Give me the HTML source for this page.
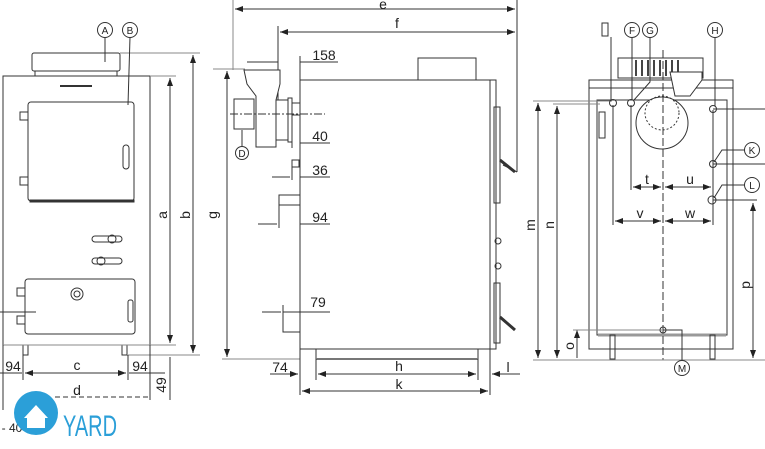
<!DOCTYPE html>
<html><head><meta charset="utf-8"><style>
html,body{margin:0;padding:0;background:#fff;}
svg{display:block;font-family:"Liberation Sans",sans-serif;}
</style></head><body>
<svg width="765" height="449" viewBox="0 0 765 449" xmlns="http://www.w3.org/2000/svg">
<defs>
<marker id="ar" markerWidth="8" markerHeight="6" refX="8" refY="3" orient="auto-start-reverse" markerUnits="userSpaceOnUse"><path d="M0,0 L8,3 L0,6 Z" fill="#222"/></marker>
</defs>
<g stroke="#333" stroke-width="1" fill="none">
<!-- FRONT VIEW -->
<rect x="32" y="53" width="88" height="18" rx="2" fill="#fff"/>
<rect x="35" y="71" width="82" height="5"/>
<line x1="120" y1="53" x2="200" y2="53" stroke="#888"/>
<rect x="3" y="76" width="147" height="269" fill="#fff"/>
<line x1="150" y1="76" x2="176" y2="76" stroke="#888"/>
<line x1="60" y1="86" x2="92" y2="86" stroke-width="2"/>
<rect x="28" y="102" width="106" height="99" rx="3"/>
<rect x="30" y="200" width="104" height="2" fill="#333"/>
<rect x="20" y="112" width="8" height="8"/><rect x="20" y="177" width="8" height="8"/>
<rect x="123" y="145" width="6" height="24" rx="3"/>
<rect x="92" y="236" width="30" height="6" rx="3"/><circle cx="112" cy="239" r="4"/>
<rect x="92" y="258" width="30" height="6" rx="3"/><circle cx="101" cy="261" r="4"/>
<rect x="25" y="279" width="110" height="55" rx="3"/>
<circle cx="77" cy="294" r="6"/><circle cx="77" cy="294" r="3"/>
<rect x="17" y="288" width="8" height="8"/><rect x="17" y="316" width="8" height="8"/>
<rect x="128" y="300" width="5" height="22" rx="2"/>
<line x1="0" y1="312" x2="36" y2="312"/>
<rect x="23" y="345" width="5" height="10"/><rect x="122" y="345" width="5" height="10"/>
<line x1="128" y1="355" x2="200" y2="355" stroke="#888"/>
<line x1="3" y1="345" x2="176" y2="345" stroke="#888"/>
<line x1="3" y1="345" x2="3" y2="410"/><line x1="150" y1="345" x2="150" y2="400"/>
<line x1="23" y1="355" x2="23" y2="380"/><line x1="128" y1="355" x2="128" y2="380"/>
<line x1="170" y1="78" x2="170" y2="343" marker-start="url(#ar)" marker-end="url(#ar)"/>
<line x1="193" y1="55" x2="193" y2="353" marker-start="url(#ar)" marker-end="url(#ar)"/>
<line x1="25" y1="373" x2="126" y2="373" marker-start="url(#ar)" marker-end="url(#ar)"/>
<line x1="0" y1="373" x2="22" y2="373"/><line x1="129" y1="373" x2="165" y2="373"/>
<line x1="170" y1="357" x2="170" y2="400"/>
<line x1="55" y1="397" x2="148" y2="397" stroke-dasharray="5,3"/>
<!-- SIDE VIEW -->
<line x1="233" y1="0" x2="233" y2="70" stroke="#888"/>
<line x1="235" y1="9" x2="515" y2="9" marker-start="url(#ar)" marker-end="url(#ar)"/>
<line x1="517" y1="0" x2="517" y2="172"/>
<line x1="278" y1="26" x2="278" y2="100"/>
<line x1="280" y1="32" x2="515" y2="32" marker-start="url(#ar)" marker-end="url(#ar)"/>
<line x1="517" y1="172" x2="503" y2="165"/>
<rect x="418" y="58" width="58" height="22" fill="#fff"/>
<rect x="300" y="80" width="190" height="269" fill="#fff"/>
<rect x="490" y="80" width="6" height="269"/>
<rect x="494" y="107" width="6" height="96"/><rect x="494" y="283" width="6" height="60"/>
<line x1="500" y1="160" x2="515" y2="172" stroke-width="3"/>
<line x1="500" y1="317" x2="515" y2="330" stroke-width="3"/>
<circle cx="498" cy="241" r="3"/><circle cx="498" cy="266" r="3"/>
<rect x="316" y="349" width="162" height="10"/>
<line x1="316" y1="359" x2="478" y2="359" stroke-width="2" stroke="#777"/>
<!-- flue -->
<path d="M244,70 L280,70 L280,84 L276,100 L276,147 L256,147 L256,96 L247,84 Z" fill="#fff"/>
<rect x="234" y="99" width="20" height="30" fill="#fff"/>
<rect x="276" y="100" width="12" height="40"/>
<rect x="288" y="98" width="4" height="44"/>
<rect x="292" y="103" width="8" height="12"/>
<line x1="230" y1="114" x2="325" y2="114" stroke-dasharray="8,2,2,2"/>
<line x1="242" y1="130" x2="242" y2="146"/>
<circle cx="242" cy="153" r="6.5" fill="#fff"/>
<line x1="213" y1="69" x2="245" y2="69" stroke="#888"/>
<line x1="247" y1="62" x2="278" y2="62"/><line x1="300" y1="62" x2="338" y2="62"/>
<line x1="300" y1="56" x2="300" y2="80"/>
<line x1="292" y1="140" x2="292" y2="148"/><line x1="300" y1="143" x2="330" y2="143"/>
<rect x="292" y="160" width="7" height="7"/>
<line x1="272" y1="177" x2="290" y2="177"/><line x1="300" y1="177" x2="330" y2="177"/><line x1="292" y1="167" x2="292" y2="180"/>
<rect x="279" y="195" width="21" height="10"/><line x1="279" y1="205" x2="279" y2="228"/>
<line x1="258" y1="224" x2="277" y2="224"/><line x1="300" y1="224" x2="330" y2="224"/>
<rect x="283" y="312" width="17" height="20"/><line x1="283" y1="305" x2="283" y2="318"/>
<line x1="262" y1="312" x2="281" y2="312"/><line x1="300" y1="312" x2="330" y2="312"/>
<line x1="227" y1="71" x2="227" y2="357" marker-start="url(#ar)" marker-end="url(#ar)"/>
<line x1="222" y1="359" x2="300" y2="359" stroke="#888"/>
<line x1="300" y1="349" x2="300" y2="395"/><line x1="490" y1="349" x2="490" y2="395"/>
<line x1="316" y1="359" x2="316" y2="380"/><line x1="478" y1="359" x2="478" y2="380"/>
<line x1="270" y1="374" x2="298" y2="374" marker-end="url(#ar)"/>
<line x1="318" y1="374" x2="476" y2="374" marker-start="url(#ar)" marker-end="url(#ar)"/>
<line x1="492" y1="374" x2="520" y2="374" marker-start="url(#ar)"/>
<line x1="302" y1="391" x2="488" y2="391" marker-start="url(#ar)" marker-end="url(#ar)"/>
<!-- REAR VIEW -->
<rect x="618" y="58" width="85" height="20" fill="#fff"/>
<g stroke="#444" stroke-width="2"><line x1="636" y1="60" x2="636" y2="76"/><line x1="642" y1="60" x2="642" y2="76"/><line x1="648" y1="60" x2="648" y2="76"/><line x1="654" y1="60" x2="654" y2="76"/><line x1="660" y1="60" x2="660" y2="76"/><line x1="666" y1="60" x2="666" y2="76"/><line x1="672" y1="60" x2="672" y2="76"/><line x1="678" y1="60" x2="678" y2="76"/></g>
<rect x="589" y="80" width="144" height="269" fill="#fff"/>
<rect x="597" y="100" width="130" height="235"/>
<line x1="589" y1="88" x2="733" y2="88"/>
<rect x="599" y="112" width="6" height="26"/>
<circle cx="662" cy="123" r="26" fill="#fff"/>
<circle cx="662" cy="113" r="17" stroke-dasharray="2,2"/>
<path d="M670,72 L702,72 L702,80 L690,96 L675,96 Z" fill="#fff"/>
<line x1="598" y1="335" x2="726" y2="335" stroke="#999" stroke-width="3"/>
<rect x="610" y="335" width="5" height="24"/><rect x="710" y="335" width="5" height="24"/>
<line x1="663" y1="50" x2="663" y2="360" stroke-dasharray="8,3"/>
<line x1="533" y1="360" x2="765" y2="360" stroke="#888"/>
<line x1="533" y1="101" x2="612" y2="101" stroke="#888"/><line x1="553" y1="104" x2="600" y2="104" stroke="#888"/>
<line x1="538" y1="103" x2="538" y2="358" marker-start="url(#ar)" marker-end="url(#ar)"/>
<line x1="557" y1="106" x2="557" y2="358" marker-start="url(#ar)" marker-end="url(#ar)"/>
<line x1="577" y1="330" x2="577" y2="358" marker-start="url(#ar)"/>
<line x1="573" y1="330" x2="662" y2="330" stroke="#888"/>
<line x1="753" y1="203" x2="753" y2="358" marker-start="url(#ar)" marker-end="url(#ar)"/>
<line x1="713" y1="200" x2="757" y2="200"/>
<circle cx="613" cy="103" r="3.5"/><circle cx="631" cy="103" r="3.5"/><circle cx="713" cy="109" r="3.5"/><circle cx="713" cy="164" r="3.5"/><circle cx="712" cy="200" r="4"/><circle cx="663" cy="330" r="3"/>
<line x1="613" y1="105" x2="613" y2="225"/><line x1="631" y1="105" x2="631" y2="190"/><line x1="713" y1="110" x2="713" y2="225"/>
<line x1="713" y1="109" x2="765" y2="109"/><line x1="713" y1="164" x2="765" y2="164"/>
<line x1="633" y1="187" x2="661" y2="187" marker-start="url(#ar)" marker-end="url(#ar)"/>
<line x1="665" y1="187" x2="711" y2="187" marker-start="url(#ar)" marker-end="url(#ar)"/>
<line x1="615" y1="221" x2="661" y2="221" marker-start="url(#ar)" marker-end="url(#ar)"/>
<line x1="665" y1="221" x2="711" y2="221" marker-start="url(#ar)" marker-end="url(#ar)"/>
<line x1="611" y1="37" x2="611" y2="100"/><line x1="632" y1="37" x2="632" y2="100"/>
<path d="M650,37 L650,82 L634,100"/><line x1="715" y1="37" x2="715" y2="106"/>
<path d="M745,150 L722,150 L714,162"/><path d="M745,185 L722,185 L714,198"/>
<path d="M663,330 L682,330 L682,361"/>
<rect x="602" y="23" width="6" height="13"/>
<g fill="#fff">
<circle cx="105" cy="30" r="7.5"/><circle cx="130" cy="30" r="7.5"/>
<circle cx="632" cy="30" r="7.5"/><circle cx="650" cy="30" r="7.5"/><circle cx="715" cy="30" r="7.5"/>
<circle cx="752" cy="150" r="7.5"/><circle cx="752" cy="185" r="7.5"/><circle cx="682" cy="368" r="7.5"/>
</g>
<line x1="105" y1="37" x2="105" y2="62"/><line x1="130" y1="37" x2="128" y2="105"/>
</g>
<g fill="#222" font-size="14" text-anchor="middle">
<text x="105" y="34" font-size="10">A</text><text x="130" y="34" font-size="10">B</text>
<text x="242" y="157" font-size="10">D</text>
<text x="632" y="34" font-size="10">F</text><text x="650" y="34" font-size="10">G</text><text x="715" y="34" font-size="10">H</text>
<text x="752" y="154" font-size="10">K</text><text x="752" y="189" font-size="10">L</text><text x="682" y="372" font-size="10">M</text>
<text transform="translate(167,215) rotate(-90)">a</text>
<text transform="translate(190,215) rotate(-90)">b</text>
<text transform="translate(217,215) rotate(-90)">g</text>
<text x="13" y="371">94</text><text x="77" y="370">c</text><text x="140" y="371">94</text>
<text transform="translate(166,385) rotate(-90)">49</text>
<text x="77" y="395">d</text>
<text x="12" y="432" font-size="12">- 40</text>
<text x="383" y="9">e</text><text x="397" y="28">f</text>
<text x="324" y="60">158</text><text x="320" y="141">40</text><text x="320" y="175">36</text><text x="320" y="222">94</text><text x="318" y="307">79</text>
<text x="280" y="372">74</text><text x="399" y="371">h</text><text x="399" y="389">k</text><text x="508" y="372">l</text>
<text transform="translate(535,225) rotate(-90)">m</text>
<text transform="translate(554,225) rotate(-90)">n</text>
<text transform="translate(574,346) rotate(-90)">o</text>
<text transform="translate(750,285) rotate(-90)">p</text>
<text x="647" y="184">t</text><text x="690" y="184">u</text><text x="640" y="218">v</text><text x="690" y="218">w</text>
</g>
<circle cx="36" cy="413" r="22" fill="#2b9fd8"/>
<path d="M24,418 L36,405 L48,418 L45,418 L45,428 L27,428 L27,418 Z" fill="#fff"/>
<text x="63" y="436" font-size="30" fill="#2b9fd8" textLength="54" lengthAdjust="spacingAndGlyphs">YARD</text>
</svg>
</body></html>
